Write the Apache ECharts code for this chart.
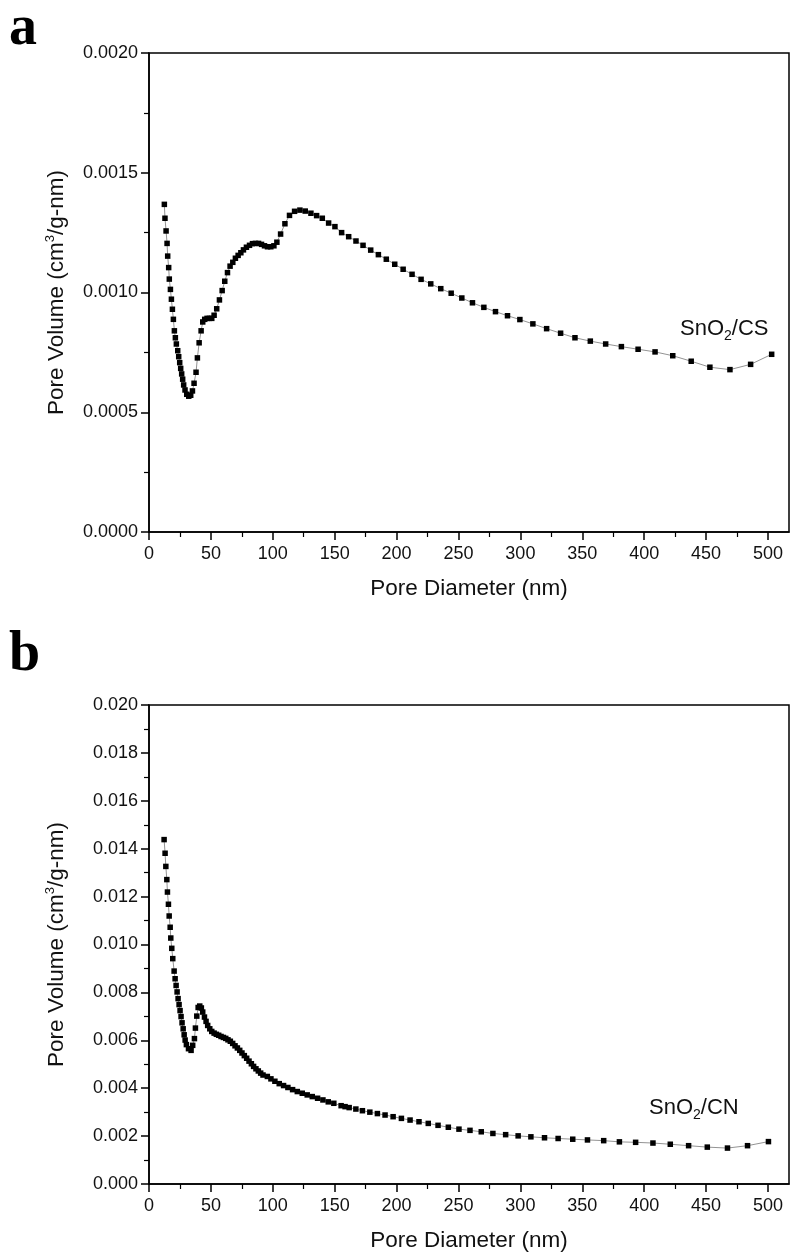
<!DOCTYPE html>
<html>
<head>
<meta charset="utf-8">
<script src="https://cdn.jsdelivr.net/npm/echarts@6/dist/echarts.min.js"></script>
<style>
html,body{margin:0;padding:0;background:#fff;}
#chart{width:792px;height:1256px;}
</style>
</head>
<body>
<div id="chart"></div>
<script>
// ---- Panel a: SnO2/CS ----
const diamA = [12.4,12.9,13.8,14.6,15.1,15.9,16.4,17.3,18.1,18.9,19.7,20.5,21.3,22.1,23.2,24.0,24.8,25.6,26.4,27.2,28.0,29.1,30.5,32.1,33.7,35.1,36.4,38.0,39.1,40.5,42.1,43.4,45.0,46.9,48.8,50.7,52.6,54.7,56.9,59.1,61.2,63.4,65.5,67.7,69.8,72.0,74.2,76.3,78.7,81.2,83.6,86.0,88.5,90.9,93.3,95.7,98.4,100.9,103.3,106.3,109.8,113.5,117.6,121.9,126.2,130.8,135.4,140.0,145.1,150.2,155.6,161.3,167.2,172.9,179.1,185.3,191.7,198.5,205.3,212.5,219.8,227.6,235.7,244.1,252.7,261.3,270.5,279.9,289.6,299.6,310.1,321.2,332.5,344.1,356.5,368.9,381.6,395.1,408.8,423.1,438.0,453.1,469.3,486.0,503.0];
const volA = [0.001368,0.001310,0.001257,0.001205,0.001152,0.001104,0.001056,0.001013,0.000972,0.000930,0.000888,0.000840,0.000811,0.000785,0.000757,0.000732,0.000707,0.000683,0.000660,0.000638,0.000614,0.000593,0.000575,0.000567,0.000571,0.000589,0.000621,0.000667,0.000727,0.000790,0.000840,0.000877,0.000888,0.000892,0.000892,0.000892,0.000905,0.000932,0.000969,0.001008,0.001047,0.001083,0.001110,0.001126,0.001143,0.001155,0.001166,0.001178,0.001189,0.001197,0.001204,0.001205,0.001205,0.001201,0.001195,0.001191,0.001191,0.001195,0.001210,0.001244,0.001287,0.001322,0.001339,0.001344,0.001340,0.001331,0.001321,0.001310,0.001290,0.001275,0.001250,0.001233,0.001215,0.001197,0.001177,0.001158,0.001139,0.001118,0.001097,0.001076,0.001055,0.001036,0.001016,0.000997,0.000977,0.000957,0.000938,0.000920,0.000903,0.000887,0.000869,0.000849,0.000830,0.000811,0.000797,0.000785,0.000774,0.000763,0.000752,0.000736,0.000713,0.000688,0.000678,0.000700,0.000742];

// ---- Panel b: SnO2/CN ----
const diamB = [12.2,13.0,13.6,14.4,14.9,15.7,16.3,17.1,17.6,18.4,19.2,20.3,21.1,21.9,22.7,23.5,24.3,25.1,25.9,26.7,27.6,28.4,29.2,30.2,31.9,34.0,35.3,36.7,37.5,38.6,39.7,41.0,42.3,43.4,44.8,46.1,47.4,49.1,50.7,52.6,54.4,56.3,58.2,60.1,62.0,63.8,65.7,67.6,69.5,71.4,73.3,75.1,77.0,78.9,80.8,82.7,84.5,86.4,88.3,90.2,92.1,95.6,98.5,101.7,105.2,108.7,112.2,116.0,119.8,123.8,127.8,131.9,136.2,140.5,144.8,149.3,155.2,158.4,161.7,167.1,172.4,178.4,184.5,190.7,197.2,203.9,210.9,218.1,225.6,233.5,241.8,250.4,259.3,268.4,277.8,288.1,298.2,308.5,319.5,330.5,342.3,354.2,367.3,380.0,393.1,407.1,421.1,435.9,451.0,467.3,483.5,500.4];
const volB = [0.01438,0.01381,0.01326,0.01271,0.01219,0.01168,0.01119,0.01072,0.01027,0.00984,0.00941,0.00889,0.00857,0.00829,0.00802,0.00774,0.00749,0.00724,0.00699,0.00673,0.00648,0.00623,0.00601,0.00582,0.00565,0.00558,0.00579,0.00607,0.00651,0.00701,0.00737,0.00743,0.00735,0.00718,0.00697,0.00679,0.00662,0.00648,0.00637,0.00630,0.00625,0.00621,0.00616,0.00612,0.00608,0.00602,0.00596,0.00587,0.00577,0.00568,0.00558,0.00547,0.00536,0.00525,0.00513,0.00502,0.00491,0.00481,0.00472,0.00463,0.00455,0.00449,0.00439,0.00429,0.00419,0.00411,0.00403,0.00394,0.00386,0.00379,0.00372,0.00365,0.00358,0.00351,0.00343,0.00337,0.00327,0.00323,0.00319,0.00313,0.00306,0.00300,0.00294,0.00288,0.00281,0.00274,0.00267,0.00260,0.00253,0.00245,0.00237,0.00229,0.00224,0.00218,0.00211,0.00206,0.00201,0.00197,0.00193,0.00190,0.00187,0.00184,0.00181,0.00176,0.00174,0.00171,0.00166,0.00160,0.00154,0.00150,0.00160,0.00177];

// ---- Axis ticks ----
const xTicks = [0,50,100,150,200,250,300,350,400,450,500];
const xMinorTicks = [25,75,125,175,225,275,325,375,425,475];
const xMax = 517;
const yTicksA = [0,0.0005,0.0010,0.0015,0.0020];
const yTicksB = [0,0.002,0.004,0.006,0.008,0.010,0.012,0.014,0.016,0.018,0.020];

const FONT = 'Liberation Sans, Arial, sans-serif';
const zip = (xs, ys) => xs.map((x, i) => [x, ys[i]]);

function mainX(gi) {
  return {
    type: 'value', gridIndex: gi, position: 'bottom', min: 0, max: xMax,
    axisLine: { show: true, onZero: false, lineStyle: { color: '#000', width: 1.5 } },
    axisTick: { show: true, inside: false, length: 8, customValues: xTicks, lineStyle: { color: '#000', width: 1.5 } },
    axisLabel: { show: true, customValues: xTicks, margin: 13, fontSize: 18, color: '#111', fontFamily: FONT },
    splitLine: { show: false },
    name: 'Pore Diameter (nm)', nameLocation: 'middle', nameGap: 45,
    nameTextStyle: { fontSize: 22.5, color: '#111', fontFamily: FONT }
  };
}
function minorX(gi) {
  return {
    type: 'value', gridIndex: gi, position: 'bottom', min: 0, max: xMax,
    axisLine: { show: false },
    axisTick: { show: true, inside: false, length: 5, customValues: xMinorTicks, lineStyle: { color: '#000', width: 1.2 } },
    axisLabel: { show: false },
    splitLine: { show: false }
  };
}
function mainY(gi, ticks, dec) {
  return {
    type: 'value', gridIndex: gi, min: ticks[0], max: ticks[ticks.length - 1],
    interval: ticks[1] - ticks[0],
    axisLine: { show: true, onZero: false, lineStyle: { color: '#000', width: 1.5 } },
    axisTick: { show: true, inside: false, length: 8, lineStyle: { color: '#000', width: 1.5 } },
    minorTick: { show: true, splitNumber: 2, length: 5, lineStyle: { color: '#000', width: 1.2 } },
    axisLabel: { margin: 11, fontSize: 18, color: '#111', fontFamily: FONT,
      formatter: v => v.toFixed(dec) },
    splitLine: { show: false },
    name: 'Pore Volume (cm{sup|3}/g-nm)', nameLocation: 'middle', nameGap: 79, nameRotate: 90,
    nameTextStyle: { fontSize: 22.5, color: '#111', fontFamily: FONT,
      rich: { sup: { fontSize: 13, color: '#111', fontFamily: FONT, padding: [0, 0, 13, 0] } } }
  };
}
function series(gi, data) {
  return {
    type: 'line', xAxisIndex: gi * 2, yAxisIndex: gi, data: data,
    symbol: 'rect', symbolSize: 5.5, showSymbol: true,
    itemStyle: { color: '#000' },
    lineStyle: { color: '#777', width: 0.8 },
    animation: false
  };
}

const chart = echarts.init(document.getElementById('chart'), null, { renderer: 'canvas' });
const gridBox = { show: true, borderColor: '#000', borderWidth: 1.5, backgroundColor: 'transparent' };
const option = {
  animation: false,
  backgroundColor: '#fff',
  grid: [
    Object.assign({ left: 149, top: 53, width: 640, height: 479 }, gridBox),
    Object.assign({ left: 149, top: 705, width: 640, height: 479 }, gridBox)
  ],
  xAxis: [mainX(0), minorX(0), mainX(1), minorX(1)],
  yAxis: [mainY(0, yTicksA, 4), mainY(1, yTicksB, 3)],
  series: [series(0, zip(diamA, volA)), series(1, zip(diamB, volB))],
  graphic: [
    { type: 'text', left: 9, top: 2, style: { text: 'a', font: 'bold 56px "Liberation Serif", "Times New Roman", serif', fill: '#000' } },
    { type: 'text', left: 9, top: 628, style: { text: 'b', font: 'bold 56px "Liberation Serif", "Times New Roman", serif', fill: '#000' } },
    { type: 'text', left: 680, top: 318, style: { text: 'SnO{s|2}/CS', fontSize: 22, fontFamily: FONT, fill: '#111',
        rich: { s: { fontSize: 14, fontFamily: FONT, fill: '#111', padding: [14, 0, 0, 0] } } } },
    { type: 'text', left: 649, top: 1097, style: { text: 'SnO{s|2}/CN', fontSize: 22, fontFamily: FONT, fill: '#111',
        rich: { s: { fontSize: 14, fontFamily: FONT, fill: '#111', padding: [14, 0, 0, 0] } } } }
  ]
};
chart.setOption(option);
</script>
</body>
</html>
